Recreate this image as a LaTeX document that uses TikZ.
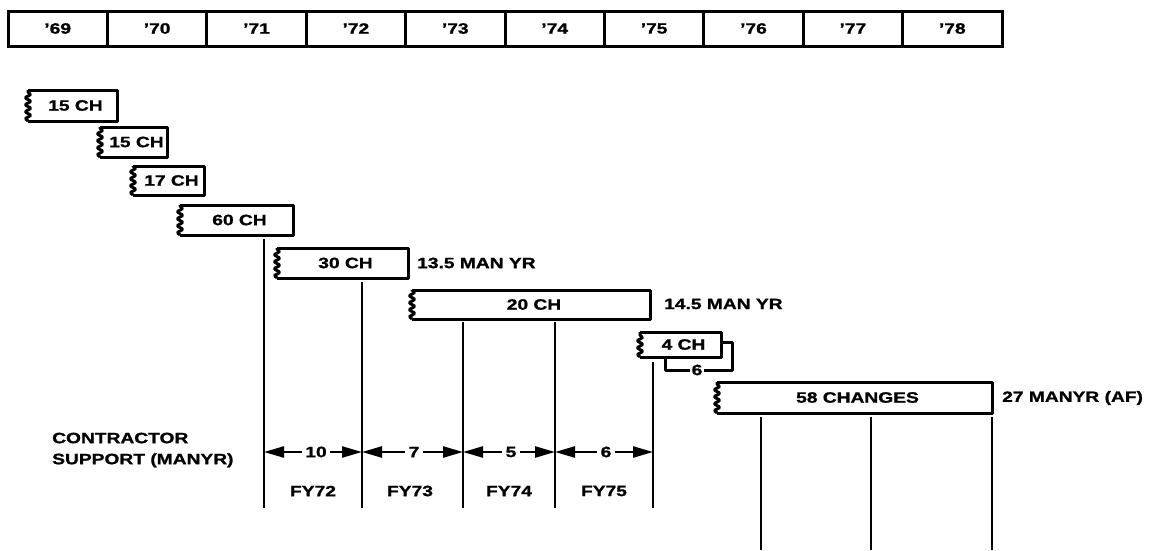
\documentclass[tikz,border=0pt]{standalone}
\usepackage{fontspec}
\newfontfamily\lblfont[FakeStretch=1.28,FakeBold=1.2]{Liberation Sans}
\usetikzlibrary{arrows.meta,calc,decorations.pathmorphing}
\tikzset{
  lbl/.style={font=\lblfont\bfseries\fontsize{15}{21}\selectfont,inner sep=2pt},
  yearcell/.style={lbl,draw,line width=3pt,minimum width=99.4pt,minimum height=35pt},
  boxline/.style={line width=3pt,line join=round},
  wavy/.style={decorate,decoration={snake,segment length=7pt,amplitude=2.4pt}},
  vline/.style={line width=2.8pt},
  arr/.style={line width=2.4pt,-{Triangle[length=20pt 0,width=11pt 0]}},
  gap/.style={lbl,fill=white,inner sep=3pt}
}
\newcommand\tapebox[6]{%
  \coordinate (#1-nw) at (#2,#3);
  \coordinate (#1-se) at (#4,#5);
  \draw[boxline] (#1-nw) -- (#1-nw -| #1-se) -- (#1-se) -- (#1-se -| #1-nw);
  \draw[boxline,wavy] (#1-se -| #1-nw) -- (#1-nw);
  \node[lbl] (#1) at ($(#1-nw)!0.5!(#1-se)+(3,0)$) {#6};}
\begin{document}
\begin{tikzpicture}[x=1pt,y=-1pt]
\useasboundingbox (0,0) rectangle (1160,550);
% year bar
\foreach \yr [count=\i from 0] in {69,70,71,72,73,74,75,76,77,78}{
  \node[yearcell] (y\yr) at ({8+99.4*(\i+0.5)},28.5) {’\yr};
}
% boxes
\tapebox{a}{28}{90}{117}{121}{15 CH}
\tapebox{b}{100}{127}{167}{157}{15 CH}
\tapebox{c}{133}{166}{204}{195}{17 CH}
\tapebox{d}{180}{205}{293}{235}{60 CH}
\tapebox{e}{277}{248}{408}{278}{30 CH}
\tapebox{f}{412}{290}{650}{319}{20 CH}
\tapebox{g}{640}{332}{721}{357}{4 CH}
\tapebox{h}{717}{382}{992}{413}{58 CHANGES}
% man-year labels
\node[lbl,anchor=west] (my1) at (415,263) {13.5 MAN YR};
\node[lbl,anchor=west] (my2) at (662,304) {14.5 MAN YR};
\node[lbl,anchor=west] (my3) at (1000,398) {27 MANYR (AF)};
% 6 bracket
\coordinate (g6a) at (665,357);
\coordinate (g6b) at (665,370);
\coordinate (g6c) at (732,370);
\coordinate (g6d) at (732,342);
\coordinate (g6e) at (721,342);
\draw[boxline] (g6a) -- (g6b) -- (g6c) -- (g6d) -- (g6e);
\node[gap,inner sep=1.5pt] (six) at (697,370) {6};
% vertical lines
\foreach \n/\x/\t in {v1/264/239, v2/362/282, v3/463/322, v4/555/322, v5/653/362}{
  \coordinate (\n t) at (\x,\t);
  \coordinate (\n b) at (\x,508);
  \draw[vline] (\n t) -- (\n b);
}
\foreach \n/\x in {w1/761, w2/871, w3/992}{
  \coordinate (\n t) at (\x,417);
  \coordinate (\n b) at (\x,550);
  \draw[vline] (\n t) -- (\n b);
}
% contractor support
\node[lbl,align=left,anchor=west] (cs) at (50,450) {CONTRACTOR\\SUPPORT (MANYR)};
% arrows
\foreach \n/\x/\l/\r/\t in {s1/316/v1/v2/10, s2/414/v2/v3/7, s3/511/v3/v4/5, s4/606/v4/v5/6}{
  \node[gap] (\n) at (\x,452) {\t};
  \draw[arr] (\n.west) -- (\n.west -| \l t);
  \draw[arr] (\n.east) -- (\n.east -| \r t);
}
% fiscal years
\node[lbl] (fy72) at (313,491) {FY72};
\node[lbl] (fy73) at (410,491) {FY73};
\node[lbl] (fy74) at (509,491) {FY74};
\node[lbl] (fy75) at (604,491) {FY75};
\end{tikzpicture}
\end{document}
